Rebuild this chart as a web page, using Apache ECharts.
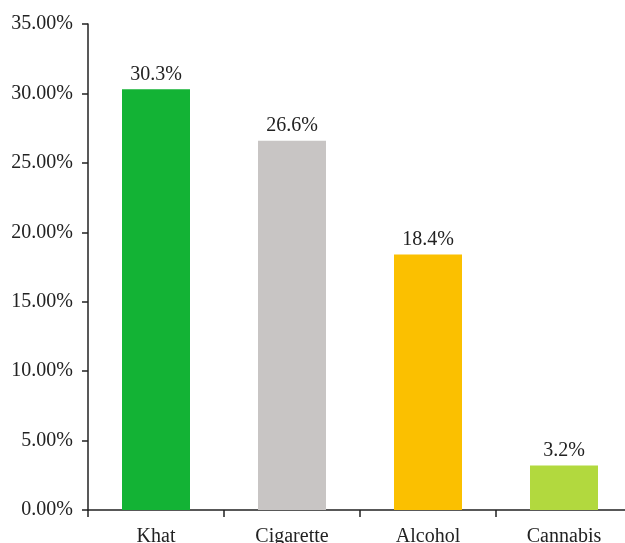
<!DOCTYPE html>
<html>
<head>
<meta charset="utf-8">
<script src="https://cdn.jsdelivr.net/npm/echarts@6/dist/echarts.min.js"></script>
<style>html,body{margin:0;padding:0;background:#fff;overflow:hidden;}#c{width:632px;height:543px;}</style>
</head>
<body>
<div id="c"></div>
<script>
const categories = ['Khat', 'Cigarette', 'Alcohol', 'Cannabis'];
const values = [30.3, 26.6, 18.4, 3.2];
const barColors = ['#13b335', '#c8c5c4', '#fbc000', '#b2d93e'];
const yTicks = { min: 0, max: 35, interval: 5 };

const font = 'Liberation Serif';
const chart = echarts.init(document.getElementById('c'), null, { renderer: 'canvas' });
chart.setOption({
  animation: false,
  grid: { left: 88, top: 24, right: 0, bottom: 33, containLabel: false, outerBoundsMode: 'none' },
  xAxis: {
    type: 'category',
    data: categories,
    axisLine: { lineStyle: { color: '#222', width: 1.5 } },
    axisTick: { show: true, length: 7, alignWithLabel: false, lineStyle: { color: '#222', width: 1.5 } },
    axisLabel: { color: '#222', fontFamily: font, fontSize: 20, margin: 17 },
    splitLine: { show: false }
  },
  yAxis: {
    type: 'value',
    min: yTicks.min, max: yTicks.max, interval: yTicks.interval,
    axisLine: { show: true, lineStyle: { color: '#222', width: 1.5 } },
    axisTick: { show: true, length: 6, lineStyle: { color: '#222', width: 1.5 } },
    axisLabel: { color: '#222', fontFamily: font, fontSize: 20, margin: 15, formatter: v => v.toFixed(2) + '%' },
    splitLine: { show: false }
  },
  series: [{
    type: 'bar',
    data: values.map((v, i) => ({ value: v, itemStyle: { color: barColors[i] } })),
    barWidth: '50%',
    label: { show: true, position: 'top', distance: 5, color: '#222', fontFamily: font, fontSize: 20, formatter: p => p.value.toFixed(1) + '%' }
  }]
});
</script>
</body>
</html>
